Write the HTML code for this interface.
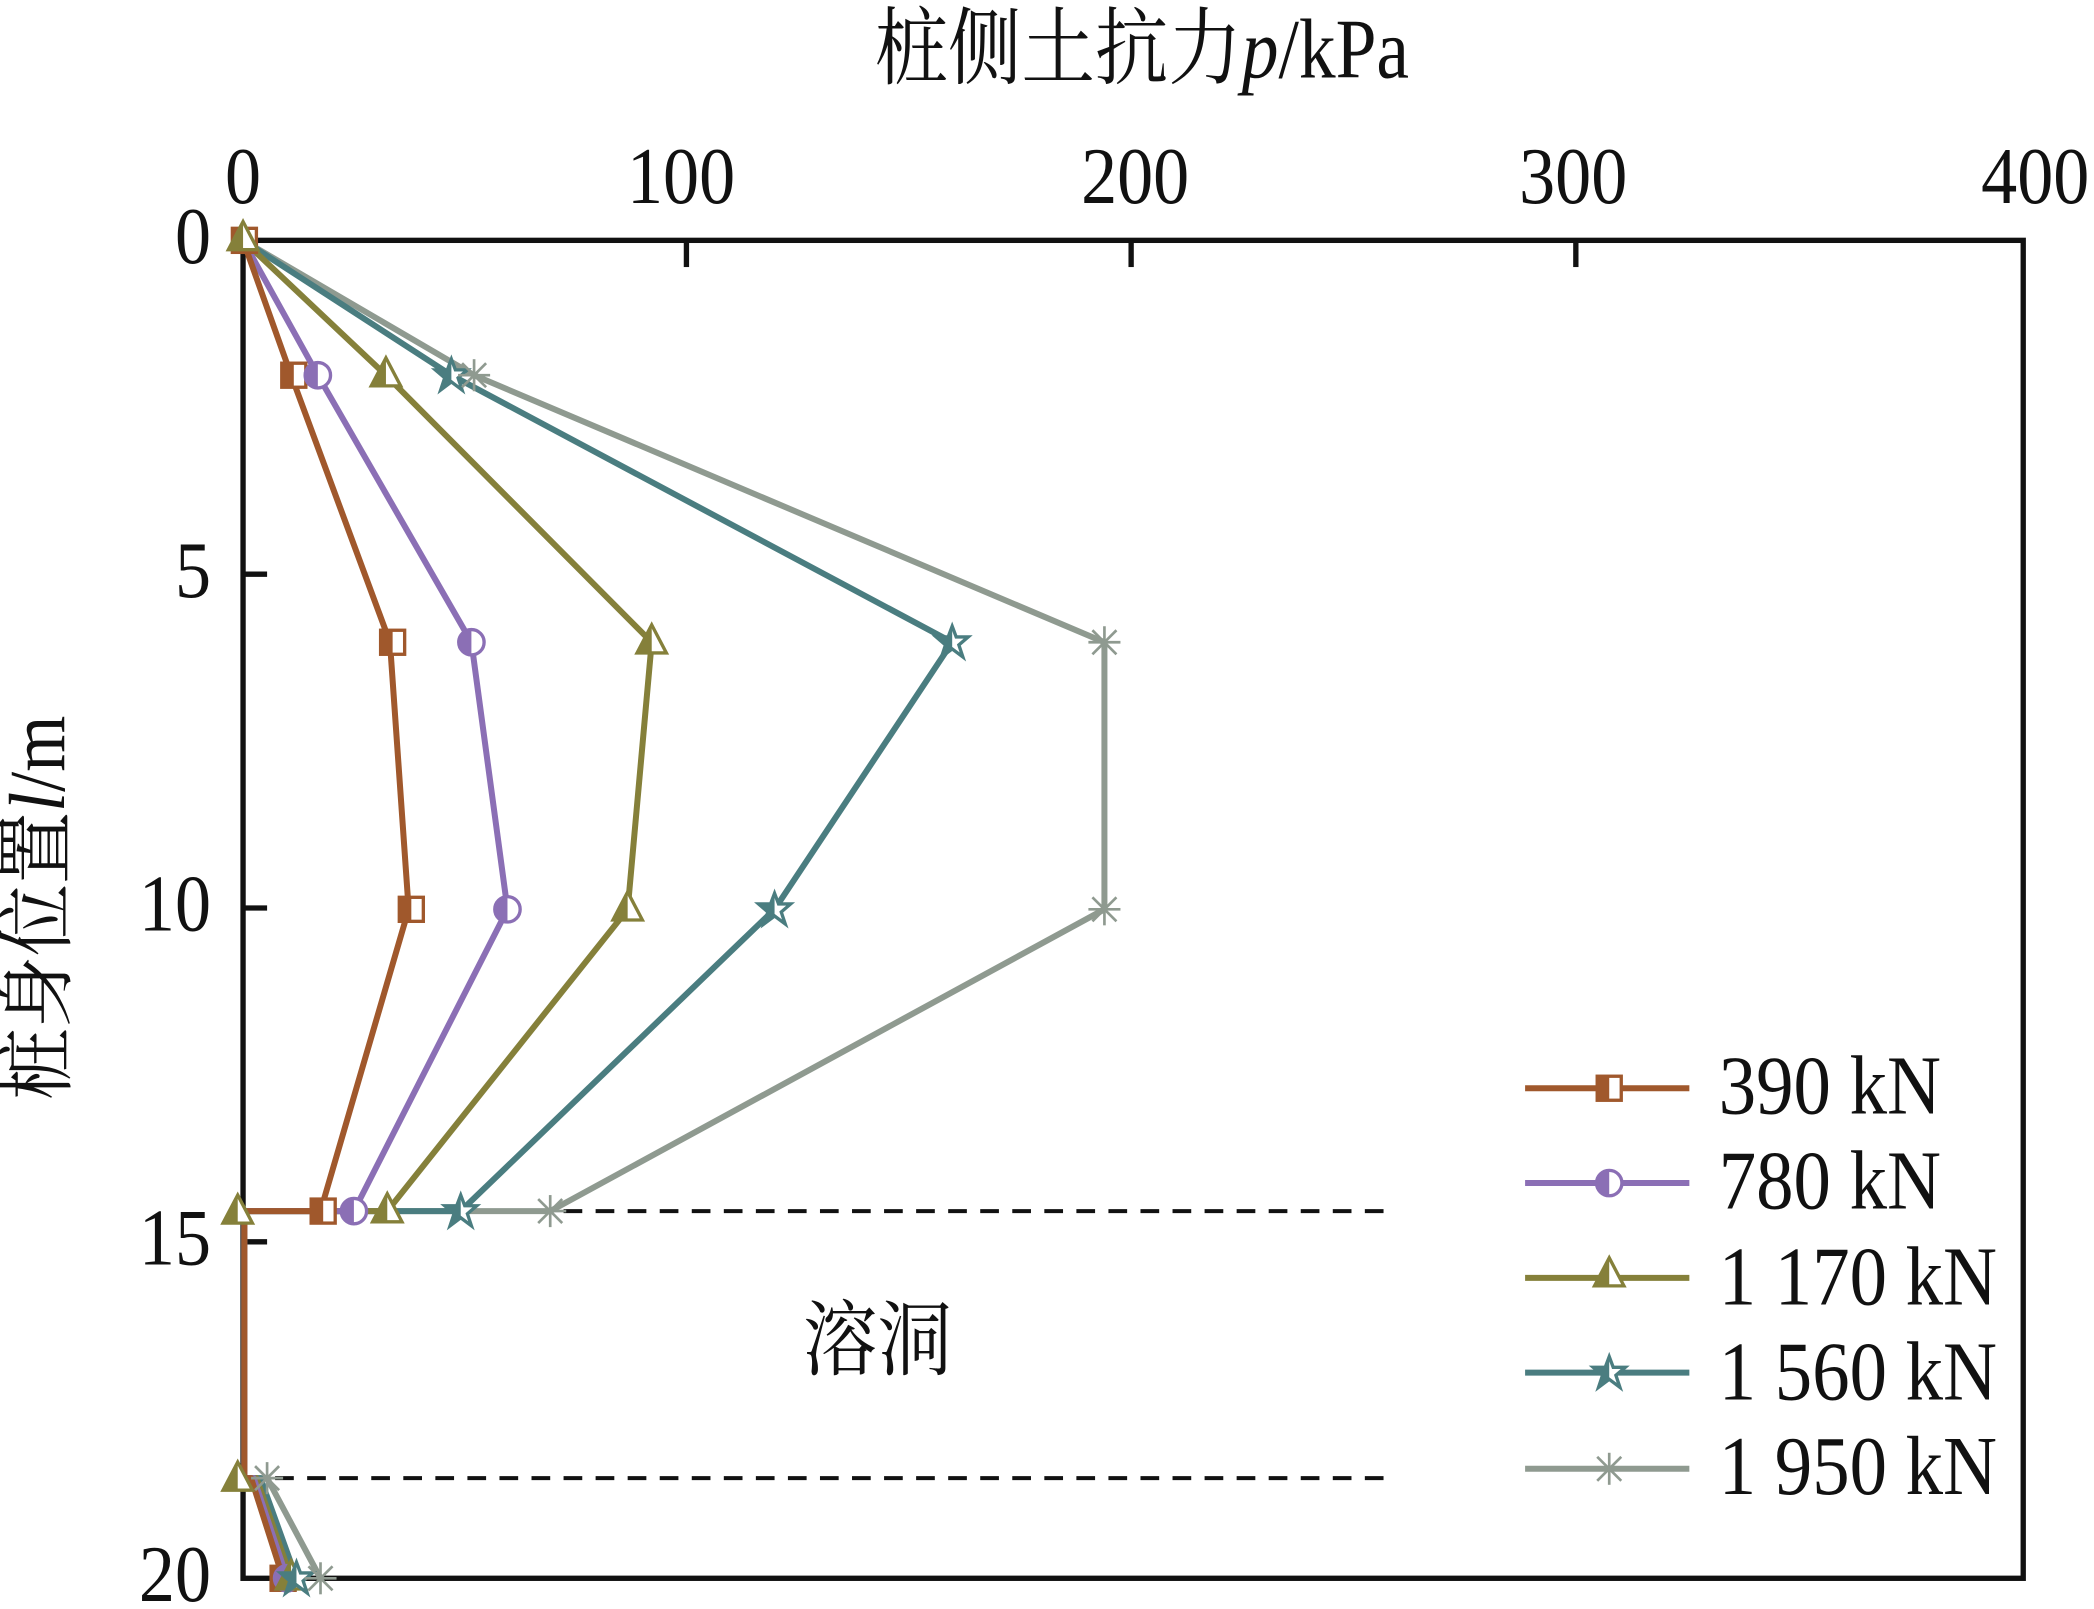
<!DOCTYPE html>
<html><head><meta charset="utf-8"><style>
html,body{margin:0;padding:0;background:#fff;}
svg{display:block;}
text{font-family:"Liberation Serif","Noto Serif CJK SC",serif;fill:#111;}
</style></head><body>
<svg width="2094" height="1609" viewBox="0 0 1568 1205" preserveAspectRatio="none" xmlns="http://www.w3.org/2000/svg">
<defs>
<g id="sq"><rect x="-9" y="-9" width="18" height="18" fill="#fff" stroke="#a0582c" stroke-width="2.5"/><rect x="-9" y="-9" width="9" height="18" fill="#a0582c"/></g>
<g id="ci"><circle r="9.5" fill="#fff" stroke="#8b6fb5" stroke-width="2.5"/><path d="M0,-9.5 A9.5,9.5 0 0 0 0,9.5Z" fill="#8b6fb5"/></g>
<g id="tr"><path d="M0,-12 L11,9 L-11,9Z" fill="#fff" stroke="#85803a" stroke-width="2.5"/><path d="M0,-12 L0,9 L-11,9Z" fill="#85803a"/></g>
<g id="st"><path d="M0,-12 L3,-4 L12,-4 L5,2 L8,11 L0,5 L-8,11 L-5,2 L-12,-4 L-3,-4Z" fill="#fff" stroke="#4a7d80" stroke-width="2.5"/><path d="M0,-12 L0,5 L-8,11 L-5,2 L-12,-4 L-3,-4Z" fill="#4a7d80"/></g>
<g id="as" stroke="#8f9a90" stroke-width="2"><line x1="-12" y1="0" x2="12" y2="0"/><line x1="0" y1="-12" x2="0" y2="12"/><line x1="-9" y1="-9" x2="9" y2="9"/><line x1="-9" y1="9" x2="9" y2="-9"/></g>
</defs>

<text transform="translate(855,58) scale(1,1.15)" font-size="55" text-anchor="middle">桩侧土抗力<tspan font-style="italic">p</tspan>/kPa</text>
<g font-size="54" text-anchor="middle">
<text transform="translate(182,152) scale(1,1.12)">0</text><text transform="translate(510,152) scale(1,1.12)">100</text><text transform="translate(850,152) scale(1,1.12)">200</text><text transform="translate(1178,152) scale(1,1.12)">300</text><text transform="translate(1524,152) scale(1,1.12)">400</text>
</g>
<g font-size="54" text-anchor="end">
<text transform="translate(158,197) scale(1,1.12)">0</text><text transform="translate(158,447) scale(1,1.12)">5</text><text transform="translate(158,697) scale(1,1.12)">10</text><text transform="translate(158,947) scale(1,1.12)">15</text><text transform="translate(158,1199) scale(1,1.12)">20</text>
</g>
<text transform="translate(48,680) rotate(-90) scale(1,1.1)" font-size="54" text-anchor="middle">桩身位置<tspan font-style="italic">l</tspan>/m</text>

<g stroke="#111" stroke-width="4" fill="none">
<rect x="182" y="180" width="1333" height="1002"/>
<line x1="514" y1="180" x2="514" y2="200"/><line x1="847" y1="180" x2="847" y2="200"/><line x1="1180" y1="180" x2="1180" y2="200"/>
<line x1="182" y1="430" x2="200" y2="430"/><line x1="182" y1="680" x2="200" y2="680"/><line x1="182" y1="930" x2="200" y2="930"/>
</g>
<g stroke="#111" stroke-width="3" stroke-dasharray="14,10">
<line x1="182" y1="907" x2="1040" y2="907"/><line x1="182" y1="1107" x2="1040" y2="1107"/>
</g>
<text transform="translate(657,1025) scale(1,1.1)" font-size="56" text-anchor="middle">溶洞</text>

<g fill="none" stroke-width="4.5" stroke-linejoin="round">
<polyline stroke="#8f9a90" points="182,180 355,281 827,481 827,681 412,907 183,907 183,1107 200,1107 240,1182"/>
<polyline stroke="#4a7d80" points="182,180 338,281 713,481 580,681 345,907 183,907 183,1107 195,1107 222,1182"/>
<polyline stroke="#85803a" points="182,180 289,281 488,481 470,681 290,907 183,907 183,1107 192,1107 218,1182"/>
<polyline stroke="#8b6fb5" points="182,180 238,281 353,481 380,681 265,907 183,907 183,1107 190,1107 215,1182"/>
<polyline stroke="#a0582c" points="182,180 218,281 292,481 306,681 240,907 183,907 183,1107 188,1107 212,1182"/>
</g>
<use href="#sq" x="220" y="281"/><use href="#sq" x="294" y="481"/><use href="#sq" x="308" y="681"/><use href="#sq" x="242" y="907"/><use href="#sq" x="212" y="1182"/><use href="#sq" x="183" y="180"/>
<use href="#ci" x="238" y="281"/><use href="#ci" x="353" y="481"/><use href="#ci" x="380" y="681"/><use href="#ci" x="265" y="907"/><use href="#ci" x="215" y="1182"/>
<use href="#tr" x="289" y="280"/><use href="#tr" x="488" y="480"/><use href="#tr" x="470" y="680"/><use href="#tr" x="290" y="906"/><use href="#tr" x="218" y="1181"/><use href="#tr" x="182" y="178"/>
<use href="#st" x="338" y="281"/><use href="#st" x="713" y="481"/><use href="#st" x="580" y="681"/><use href="#st" x="345" y="907"/><use href="#st" x="222" y="1182"/>
<use href="#as" x="355" y="281"/><use href="#as" x="827" y="481"/><use href="#as" x="827" y="681"/><use href="#as" x="412" y="907"/><use href="#as" x="240" y="1182"/><use href="#as" x="200" y="1107"/>
<use href="#tr" x="178" y="907"/><use href="#tr" x="178" y="1107"/>

<g stroke-width="4.5">
<line x1="1142" y1="815" x2="1265" y2="815" stroke="#a0582c"/>
<line x1="1142" y1="886" x2="1265" y2="886" stroke="#8b6fb5"/>
<line x1="1142" y1="957" x2="1265" y2="957" stroke="#85803a"/>
<line x1="1142" y1="1028" x2="1265" y2="1028" stroke="#4a7d80"/>
<line x1="1142" y1="1100" x2="1265" y2="1100" stroke="#8f9a90"/>
</g>
<use href="#sq" x="1205" y="815"/><use href="#ci" x="1205" y="886"/><use href="#tr" x="1205" y="954"/><use href="#st" x="1205" y="1028"/><use href="#as" x="1205" y="1100"/>
<g font-size="56">
<text transform="translate(1287,834) scale(1,1.12)">390 kN</text>
<text transform="translate(1287,905) scale(1,1.12)">780 kN</text>
<text transform="translate(1287,977) scale(1,1.12)">1 170 kN</text>
<text transform="translate(1287,1048) scale(1,1.12)">1 560 kN</text>
<text transform="translate(1287,1119) scale(1,1.12)">1 950 kN</text>
</g>
</svg>
</body></html>
